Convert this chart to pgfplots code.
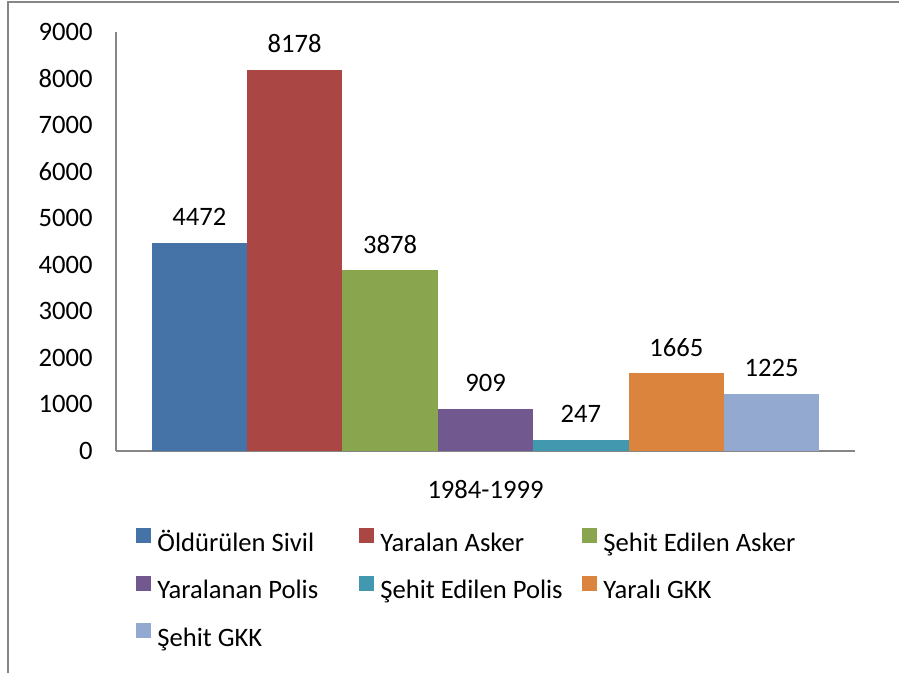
\documentclass[border=0pt]{standalone}
\usepackage{fontspec}
\setmainfont{Carlito}
\usepackage{pgfplots}
\pgfplotsset{compat=1.18}

% Excel 2007 palette
\definecolor{cSivil}{HTML}{4572A7}
\definecolor{cYarAsk}{HTML}{AA4643}
\definecolor{cSehAsk}{HTML}{89A54E}
\definecolor{cYarPol}{HTML}{71588F}
\definecolor{cSehPol}{HTML}{4198AF}
\definecolor{cYarGKK}{HTML}{DB843D}
\definecolor{cSehGKK}{HTML}{93A9CF}
\definecolor{axgray}{HTML}{868686}

\newcommand{\lw}[1]{\makebox[98bp][l]{#1}}

\begin{document}
\fontsize{13.3bp}{16bp}\selectfont
\begin{tikzpicture}
\useasboundingbox (-58bp,-111bp) rectangle (391.5bp,225.5bp);
\draw[axgray, line width=0.9bp] (-54bp,-111bp) -- (-54bp,224.6bp) -- (391.5bp,224.6bp);
\begin{axis}[
    ybar=0pt,
    bar width=47.7bp,
    scale only axis,
    width=369.5bp, height=209.5bp,
    xmin=-1, xmax=1, ymin=0, ymax=9000,
    enlargelimits=false,
    clip=false,
    ytick={0,1000,...,9000},
    xtick={0}, xticklabels={1984-1999},
    axis lines*=left,
    axis line style={axgray, line width=0.75bp},
    major tick length=0pt,
    scaled y ticks=false,
    /pgf/number format/1000 sep={},
    /pgf/number format/assume math mode=true,
    yticklabel style={anchor=east, inner sep=0pt, xshift=-11.5bp},
    xticklabel style={anchor=north, inner sep=0pt, yshift=-14.5bp},
    nodes near coords,
    every node near coord/.append style={yshift=4bp, text=black},
    legend columns=3,
    legend cell align=left,
    legend style={at={(0.02706,-0.1838)}, anchor=north west, draw=none, fill=none,
        inner sep=0pt, column sep=3bp, row sep=9.25bp,
        nodes={inner sep=0pt, text height=10bp, text depth=3bp}},
    legend image code/.code={\fill[#1] (0bp,0.5bp) rectangle (7.5bp,8bp);},
]
\addplot[fill=cSivil, draw=none] coordinates {(0,4472)};
\addlegendentry{\lw{Öldürülen Sivil}}
\addplot[fill=cYarAsk, draw=none] coordinates {(0,8178)};
\addlegendentry{\lw{Yaralan Asker}}
\addplot[fill=cSehAsk, draw=none] coordinates {(0,3878)};
\addlegendentry{\lw{Şehit Edilen Asker}}
\addplot[fill=cYarPol, draw=none] coordinates {(0,909)};
\addlegendentry{\lw{Yaralanan Polis}}
\addplot[fill=cSehPol, draw=none] coordinates {(0,247)};
\addlegendentry{\lw{Şehit Edilen Polis}}
\addplot[fill=cYarGKK, draw=none] coordinates {(0,1665)};
\addlegendentry{\lw{Yaralı GKK}}
\addplot[fill=cSehGKK, draw=none] coordinates {(0,1225)};
\addlegendentry{\lw{Şehit GKK}}
\end{axis}
\end{tikzpicture}
\end{document}
